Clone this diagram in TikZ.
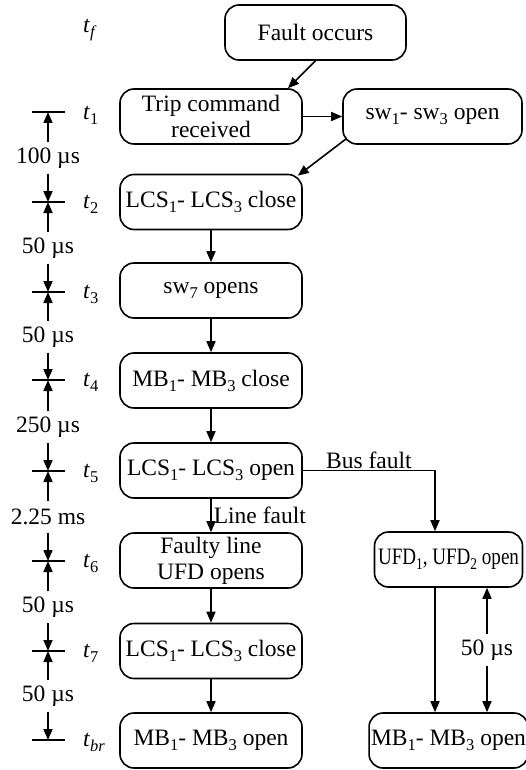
\documentclass[tikz,border=0pt]{standalone}
\usepackage{fontspec}
\setmainfont{Liberation Serif}
\usetikzlibrary{arrows.meta,calc}
\tikzset{
  box/.style={draw, line width=1.6pt, rounded corners=14pt, minimum width=182pt, minimum height=55pt, align=center, inner sep=2pt, font=\fontsize{23.5}{26}\selectfont},
  arr/.style={line width=1.6pt, -{Triangle[length=11pt,width=9pt]}},
  ln/.style={line width=1.6pt},
  tlab/.style={anchor=west, inner sep=0pt, font=\fontsize{23.5}{26}\selectfont},
  dlab/.style={inner sep=0pt, minimum height=31pt, font=\fontsize{23.5}{26}\selectfont},
  elab/.style={inner sep=1pt, font=\fontsize{23.5}{26}\selectfont}
}
\newcommand{\sbs}[1]{\raisebox{-5pt}{\fontsize{16.5}{17}\selectfont #1}}
\newcommand{\tsub}[1]{\textit{t}\sbs{#1}}
\begin{document}
\begin{tikzpicture}[x=1pt,y=-1pt]
\useasboundingbox (0,0) rectangle (525,770);
% boxes
\node[box, minimum width=181pt] (fault) at (315.5,32.5) {Fault occurs};
\node[box] (trip) at (211,116.5) {Trip command\\received};
\node[box, minimum width=179pt] (sw13) at (432.5,116.5) {sw\sbs{1}- sw\sbs{3} open};
\node[box] (lcsc1) at (211,202) {LCS\sbs{1}- LCS\sbs{3} close};
\node[box] (sw7) at (211,290.5) {sw\sbs{7} opens};
\node[box] (mbc) at (211,380.5) {MB\sbs{1}- MB\sbs{3} close};
\node[box] (lcso) at (211,470.5) {LCS\sbs{1}- LCS\sbs{3} open};
\node[box] (faulty) at (211,560.5) {Faulty line\\UFD opens};
\node[box] (lcsc2) at (211,651) {LCS\sbs{1}- LCS\sbs{3} close};
\node[box] (mbo) at (211,740.5) {MB\sbs{1}- MB\sbs{3} open};
\node[box, minimum width=148pt, inner sep=1pt] (ufd) at (448.5,559.5) {\resizebox{141pt}{\height}{UFD\sbs{1}, UFD\sbs{2} open}};
\node[box, minimum width=148pt] (mbo2) at (448.5,740.5) {MB\sbs{1}- MB\sbs{3} open};
% connectors
\draw[arr] (fault.south) -- ([xshift=77pt]trip.north);
\draw[arr] (trip.east) -- (sw13.west);
\draw[arr] ([xshift=4pt,yshift=6pt]sw13.south west) -- ([xshift=-5pt,yshift=-2pt]lcsc1.north east);
\draw[arr] (lcsc1) -- (sw7);
\draw[arr] (sw7) -- (mbc);
\draw[arr] (mbc) -- (lcso);
\draw[arr] (lcso) -- (faulty) node[pos=0.5, anchor=west, elab, xshift=1pt] {Line fault};
\draw[arr] (faulty) -- (lcsc2);
\draw[arr] (lcsc2) -- (mbo);
\draw[arr] (lcso.east) -| node[pos=0.25, anchor=south, elab] {Bus fault} ([xshift=-13.5pt]ufd.north);
\draw[arr] ([xshift=-13.5pt]ufd.south) -- ([xshift=-13.5pt]mbo2.north);
\node[dlab] (d50r) at (487,650) {50 µs};
\draw[arr] (d50r.north) -- (d50r.north |- ufd.south);
\draw[arr] (d50r.south) -- (d50r.south |- mbo2.north);
% time labels
\node[tlab] (tf) at (83,30) {\textit{t}\sbs{\textit{f}}};
\node[tlab] (l1) at (83,115) {\tsub{1}};
\node[tlab] (l2) at (83,204) {\tsub{2}};
\node[tlab] (l3) at (83,294) {\tsub{3}};
\node[tlab] (l4) at (83,382) {\tsub{4}};
\node[tlab] (l5) at (83,473) {\tsub{5}};
\node[tlab] (l6) at (83,563) {\tsub{6}};
\node[tlab] (l7) at (83,653) {\tsub{7}};
\node[tlab] (lbr) at (83,742) {\textit{t}\sbs{\textit{br}}};
% ticks
\foreach \n/\y in {1/112,2/202,3/292,4/380,5/471,6/561,7/651,8/740}{
  \coordinate (tk\n) at (48,\y);
  \draw[ln] (32,\y) -- (65,\y);
}
% interval labels
\node[dlab] (d1) at (48,158) {100 µs};
\node[dlab] (d2) at (48,248) {50 µs};
\node[dlab] (d3) at (48,337) {50 µs};
\node[dlab] (d4) at (48,427) {250 µs};
\node[dlab] (d5) at (48,517) {2.25 ms};
\node[dlab] (d6) at (48,607) {50 µs};
\node[dlab] (d7) at (48,696) {50 µs};
\foreach \a/\b/\c in {1/1/2,2/2/3,3/3/4,4/4/5,5/5/6,6/6/7,7/7/8}{
  \draw[arr] (d\a.north) -- (tk\b);
  \draw[arr] (d\a.south) -- (tk\c);
}
\end{tikzpicture}
\end{document}
